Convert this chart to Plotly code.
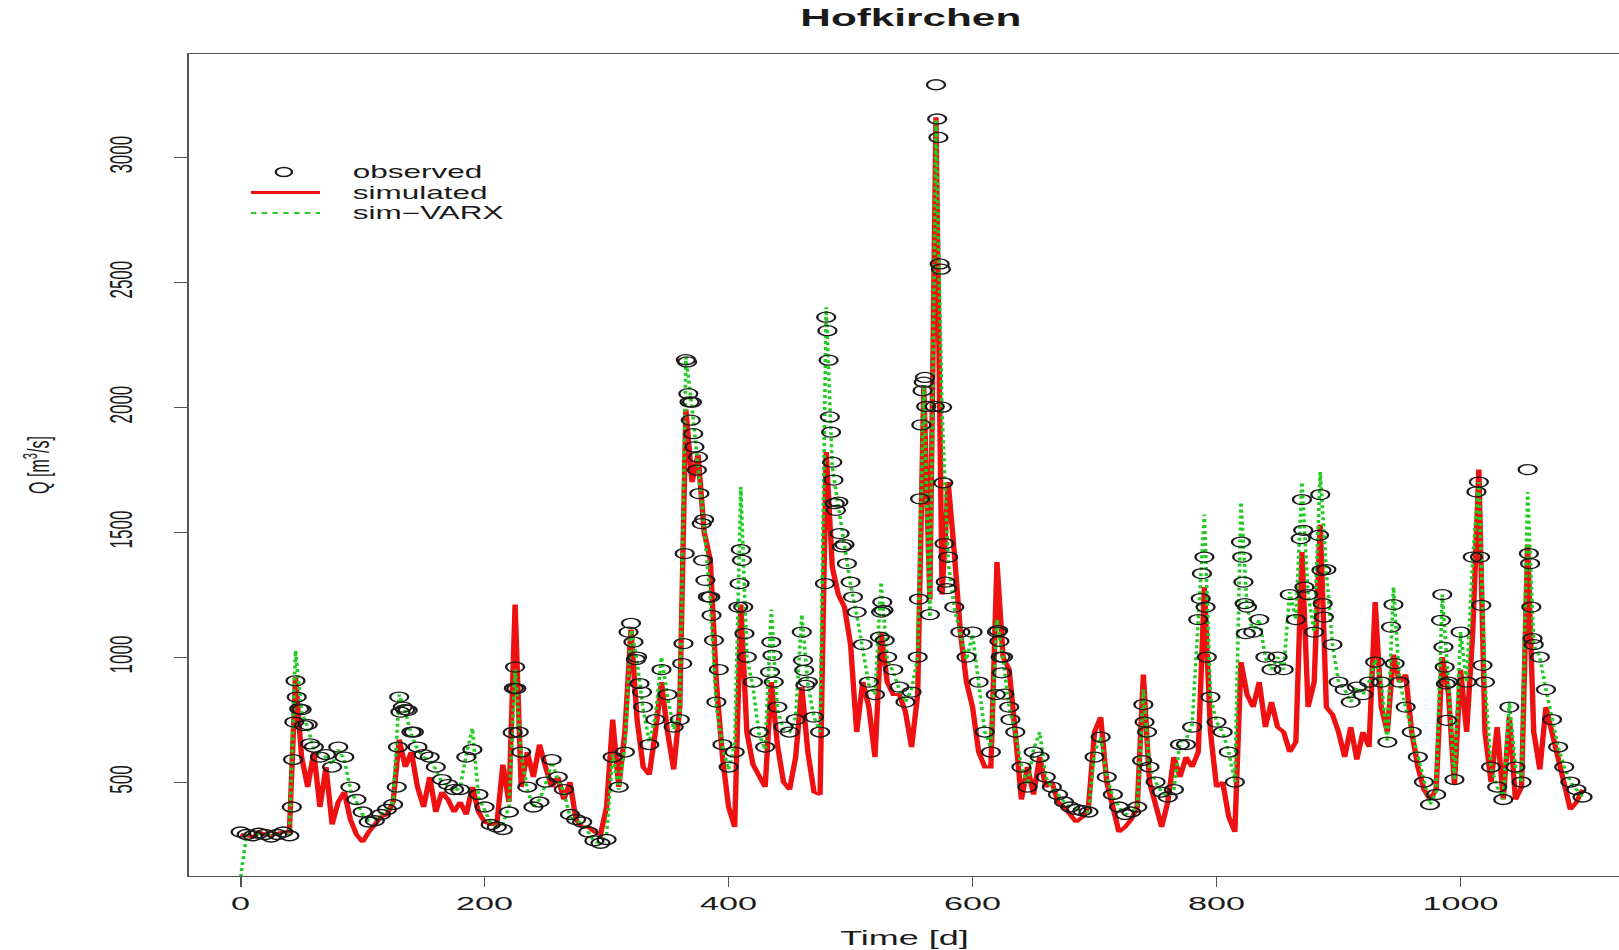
import plotly.graph_objects as go

# Daily discharge at Hofkirchen, sampled every 5 days
days = list(range(0, 1101, 5))

observed = [
    300, 290, 285, 295, 290, 280, 290, 300, 285, 905,
    790, 730, 640, 600, 610, 560, 640, 600, 480, 430,
    380, 340, 345, 370, 390, 410, 840, 790, 700, 640,
    610, 600, 560, 510, 490, 470, 470, 600, 630, 450,
    400, 330, 320, 310, 380, 960, 620, 480, 400, 420,
    500, 590, 520, 470, 370, 350, 340, 300, 265, 255,
    270, 600, 480, 620, 1135, 1000, 800, 650, 750, 950,
    850, 720, 750, 2190, 2020, 1800, 1550, 1240, 820, 650,
    560, 620, 1430, 1000, 900, 700, 640, 1060, 800, 720,
    700, 750, 1100, 900, 760, 700, 2360, 1780, 1620, 1450,
    1300, 1180, 1050, 900, 850, 1180, 1000, 950, 880, 820,
    860, 1000, 2100, 1170, 3290, 2000, 1400, 1200, 1100, 1000,
    1100, 900, 700, 620, 1100, 1000, 800, 700, 560, 480,
    620, 600, 520, 480, 450, 420, 400, 390, 385, 380,
    600, 680, 520, 450, 400, 370, 380, 400, 810, 560,
    500, 460, 440, 470, 650, 650, 720, 1150, 1400, 840,
    740, 700, 620, 500, 1460, 1200, 1100, 1150, 1000, 950,
    1000, 950, 1250, 1150, 1630, 1250, 1100, 1650, 1350, 1050,
    900, 870, 820, 880, 850, 900, 980, 900, 660, 1210,
    900, 800, 700, 600, 500, 410, 450, 1250, 900, 510,
    1100, 900, 1400, 1700, 900, 560, 480, 430, 800, 560,
    500, 1750, 1050, 1000, 870, 750, 640, 560, 500, 470,
    440,
]

# Additional daily observations on the rising and falling limbs of floods
flood_days = [
    42, 43, 44, 46, 48, 52, 57,
    128, 129, 131, 133, 137, 142,
    223, 224, 226, 228,
    318, 322, 324, 327, 329,
    362, 363, 364, 366, 367, 368, 369, 371, 372, 374, 376, 378, 379, 381, 383, 386, 388, 392,
    408, 409, 411, 412, 413,
    434, 436, 437,
    461, 462, 463,
    479, 481, 482, 483, 484, 486, 487, 488, 491, 493, 497, 502,
    524, 526, 527, 528,
    556, 557, 558, 559, 561, 562,
    569, 571, 572, 573, 574, 576, 577, 578, 579,
    619, 621, 622, 623, 624, 626, 631,
    739, 741, 743,
    787, 788, 791, 792,
    821, 822, 823, 824,
    869, 871, 872,
    884, 886, 887, 888,
    943, 946,
    984, 986, 987, 988, 989,
    1013, 1016, 1017, 1018,
    1056, 1057, 1058, 1059,
]
flood_obs = [
    400, 590, 740, 840, 793, 726, 653,
    480, 640, 780, 800, 787, 700,
    698, 875, 874, 700,
    1100, 1060, 990, 894, 860,
    974, 1054, 1414, 2181, 2054, 2021, 1948, 1894, 1841, 1748, 1654, 1534, 1387, 1307, 1241, 1167, 1067, 950,
    1200, 1294, 1387, 1200, 1094,
    940, 1007, 900,
    987, 947, 887,
    1294, 2306, 2188, 1961, 1900, 1708, 1614, 1587, 1494, 1441, 1374, 1240,
    1080, 1220, 1187, 1067,
    1232, 1633, 1929, 2066, 2119, 2003,
    2003, 3153, 3079, 2573, 2552, 1697, 1454, 1300, 1274,
    850, 1106, 1063, 1000, 937, 852, 750,
    586, 740, 700,
    1234, 1334, 1200, 1000,
    1400, 1300, 1214, 1094,
    1474, 1507, 1280,
    1487, 1347, 1214, 1160,
    1120, 974,
    1147, 1040, 960, 893, 747,
    1661, 1400, 1207, 967,
    1414, 1374, 1200, 1074,
]

simulated = [
    290, 285, 280, 300, 290, 285, 295, 300, 300, 920,
    600, 480, 620, 400, 560, 330, 420, 460, 350, 290,
    260, 300, 330, 360, 370, 420, 670, 560, 620, 480,
    400, 520, 380, 460, 430, 380, 420, 370, 480, 380,
    340, 330, 330, 570, 420, 1210, 480, 620, 520, 650,
    560, 480, 520, 430, 500, 350, 320, 320, 300, 290,
    400, 750, 480, 700, 1110, 750, 560, 530, 700, 900,
    700, 550, 800, 1990, 1700, 1810, 1500, 1390, 900, 600,
    400, 320, 1210, 700, 570, 520, 480, 900, 650, 500,
    470, 600, 880, 620, 460, 450, 1820, 1360, 1250, 1200,
    1050, 700, 900, 800, 600, 1100, 900, 850, 850, 780,
    640, 850, 2080, 1230, 3160, 1250, 1700, 1420, 1100, 900,
    800, 620, 560, 560, 1380, 1000, 950, 700, 430, 560,
    450, 600, 480, 500, 420, 400, 370, 340, 360, 400,
    700, 760, 500, 400, 300, 320, 350, 400, 930, 500,
    400, 320, 420, 600, 520, 600, 560, 620, 1280, 700,
    480, 500, 360, 300, 980, 850, 800, 900, 720, 820,
    720, 700, 620, 660, 1420, 800, 900, 1530, 800, 770,
    700, 600, 720, 590, 700, 640, 1220, 800, 700, 1010,
    900, 930, 700, 560, 470, 430, 470, 1000, 860, 490,
    950, 700, 1100, 1750, 700, 500, 720, 430, 760, 430,
    480, 1450, 700, 550, 800, 700, 600, 500, 390, 420,
    470,
]

sim_varx = [
    120, 290, 290, 290, 295, 285, 290, 295, 290, 1025,
    780, 720, 630, 610, 600, 570, 630, 590, 470, 420,
    370, 345, 350, 370, 390, 420, 850, 780, 690, 630,
    600, 590, 550, 500, 485, 460, 480, 610, 715, 440,
    390, 335, 320, 330, 400, 950, 610, 470, 400, 430,
    490, 580, 510, 460, 360, 350, 330, 300, 260, 255,
    290, 610, 470, 640, 1120, 980, 790, 660, 760, 1000,
    840, 710, 760, 2200, 2000, 1780, 1520, 1230, 800, 640,
    550, 650, 1680, 1000, 880, 690, 630, 1190, 790, 710,
    700, 760, 1170, 890, 760, 700, 2400, 1760, 1600, 1430,
    1290, 1170, 1040, 890, 850, 1300, 990, 940, 870, 820,
    870, 1000, 2090, 1160, 3150, 1980, 1380, 1200, 1090, 990,
    1090, 890, 700, 640, 1150, 990, 800, 700, 560, 490,
    630, 700, 520, 480, 450, 420, 400, 390, 385, 380,
    620, 680, 520, 440, 400, 370, 380, 400, 870, 560,
    500, 460, 440, 470, 660, 670, 730, 1150, 1570, 840,
    740, 700, 620, 500, 1620, 1200, 1100, 1150, 1000, 950,
    1000, 950, 1260, 1150, 1700, 1250, 1100, 1740, 1340, 1050,
    900, 870, 820, 880, 850, 900, 990, 900, 660, 1280,
    900, 800, 700, 600, 500, 410, 460, 1250, 900, 510,
    1100, 900, 1400, 1700, 900, 560, 480, 430, 820, 560,
    500, 1660, 1050, 1000, 870, 750, 640, 560, 500, 470,
    440,
]

assert len(observed) == len(simulated) == len(sim_varx) == len(days)
assert len(flood_days) == len(flood_obs)

x_ticks = [0, 200, 400, 600, 800, 1000]
y_ticks = [500, 1000, 1500, 2000, 2500, 3000]
legend_labels = ["observed", "simulated", "sim\u2212VARX"]

# The page is drawn narrow and widened horizontally, like a stretched R device
STRETCH = 1.8
WIDTH = 900
HEIGHT = 950
M_LEFT, M_TOP, M_BOTTOM = 105, 54, 74
PLOT_W = WIDTH - M_LEFT
PLOT_H = HEIGHT - M_TOP - M_BOTTOM

FONT = "Liberation Sans, Arial, Helvetica, sans-serif"
INK = "#1a1a1a"
AXIS = "#555555"
RED = "#ee1111"
GREEN = "#22cc22"


def px_x(u):
    """Horizontal page pixel (before widening) to paper coordinate."""
    return (u - M_LEFT) / PLOT_W


def px_y(v):
    """Vertical page pixel to paper coordinate."""
    return (HEIGHT - M_BOTTOM - v) / PLOT_H


obs_x = days + flood_days
obs_y = observed + flood_obs

fig = go.Figure()
fig.add_trace(go.Scatter(
    x=days, y=simulated, mode="lines", name=legend_labels[1],
    line=dict(color=RED, width=3),
))
fig.add_trace(go.Scatter(
    x=days, y=sim_varx, mode="lines", name=legend_labels[2],
    line=dict(color=GREEN, width=2, dash="dot"),
))
fig.add_trace(go.Scatter(
    x=obs_x, y=obs_y, mode="markers", name=legend_labels[0],
    marker=dict(symbol="circle-open", size=10, color=INK, line=dict(width=1.3)),
))

axis_common = dict(
    ticks="outside", tickwidth=1.2, tickcolor=AXIS,
    showline=True, linecolor=AXIS, linewidth=1.2, mirror=True,
    showgrid=False, zeroline=False,
)

fig.update_xaxes(
    range=[-42.3, 1130.7], tickvals=x_ticks, ticklen=10,
    tickfont=dict(size=19, color=INK), ticklabelstandoff=0,
    title=dict(text="Time [d]", font=dict(size=20, color=INK), standoff=18),
    **axis_common,
)
fig.update_yaxes(
    range=[124, 3413], tickvals=y_ticks, ticklen=7, tickangle=-90,
    tickfont=dict(size=17, color=INK), ticklabelstandoff=17,
    title=dict(text="Q [m<sup>3</sup>/s]", font=dict(size=16, color=INK), standoff=26),
    **axis_common,
)

# Key in the upper left, without a frame
key_rows = [172.0, 192.5, 213.0]
key_text_x = px_x(195)
key_line_x = (px_x(139.4), px_x(177.8))
key_mark_x = px_x(157.7)

shapes = [
    dict(type="circle", xref="paper", yref="paper",
         xsizemode="pixel", ysizemode="pixel",
         xanchor=key_mark_x, yanchor=px_y(key_rows[0]),
         x0=-4.5, x1=4.5, y0=-4.5, y1=4.5,
         line=dict(color=INK, width=1.3)),
    dict(type="line", xref="paper", yref="paper",
         x0=key_line_x[0], x1=key_line_x[1],
         y0=px_y(key_rows[1]), y1=px_y(key_rows[1]),
         line=dict(color=RED, width=3)),
    dict(type="line", xref="paper", yref="paper",
         x0=key_line_x[0], x1=key_line_x[1],
         y0=px_y(key_rows[2]), y1=px_y(key_rows[2]),
         line=dict(color=GREEN, width=2, dash="dot")),
]

annotations = [
    dict(text=label, xref="paper", yref="paper", x=key_text_x, y=px_y(row),
         xanchor="left", yanchor="middle", showarrow=False, borderpad=0,
         font=dict(size=17.5, color=INK))
    for label, row in zip(legend_labels, key_rows)
]

fig.update_layout(
    width=WIDTH, height=HEIGHT,
    margin=dict(l=M_LEFT, r=0, t=M_TOP, b=M_BOTTOM),
    paper_bgcolor="white", plot_bgcolor="white",
    font=dict(family=FONT, color=INK),
    showlegend=False,
    title=dict(
        text="<b>Hofkirchen</b>", xref="paper", x=0.5044, xanchor="center",
        yref="container", y=1 - 17.5 / HEIGHT, yanchor="middle",
        font=dict(size=23.5, color=INK),
    ),
    shapes=shapes,
    annotations=annotations,
)

stretch_js = (
    "var gd = document.getElementById('{plot_id}');"
    "document.body.style.margin = '0';"
    "document.body.style.overflow = 'hidden';"
    "gd.style.transformOrigin = '0 0';"
    "gd.style.transform = 'scaleX(" + str(STRETCH) + ")';"
)

fig.write_html("out.html", config={"displayModeBar": False}, post_script=stretch_js)
